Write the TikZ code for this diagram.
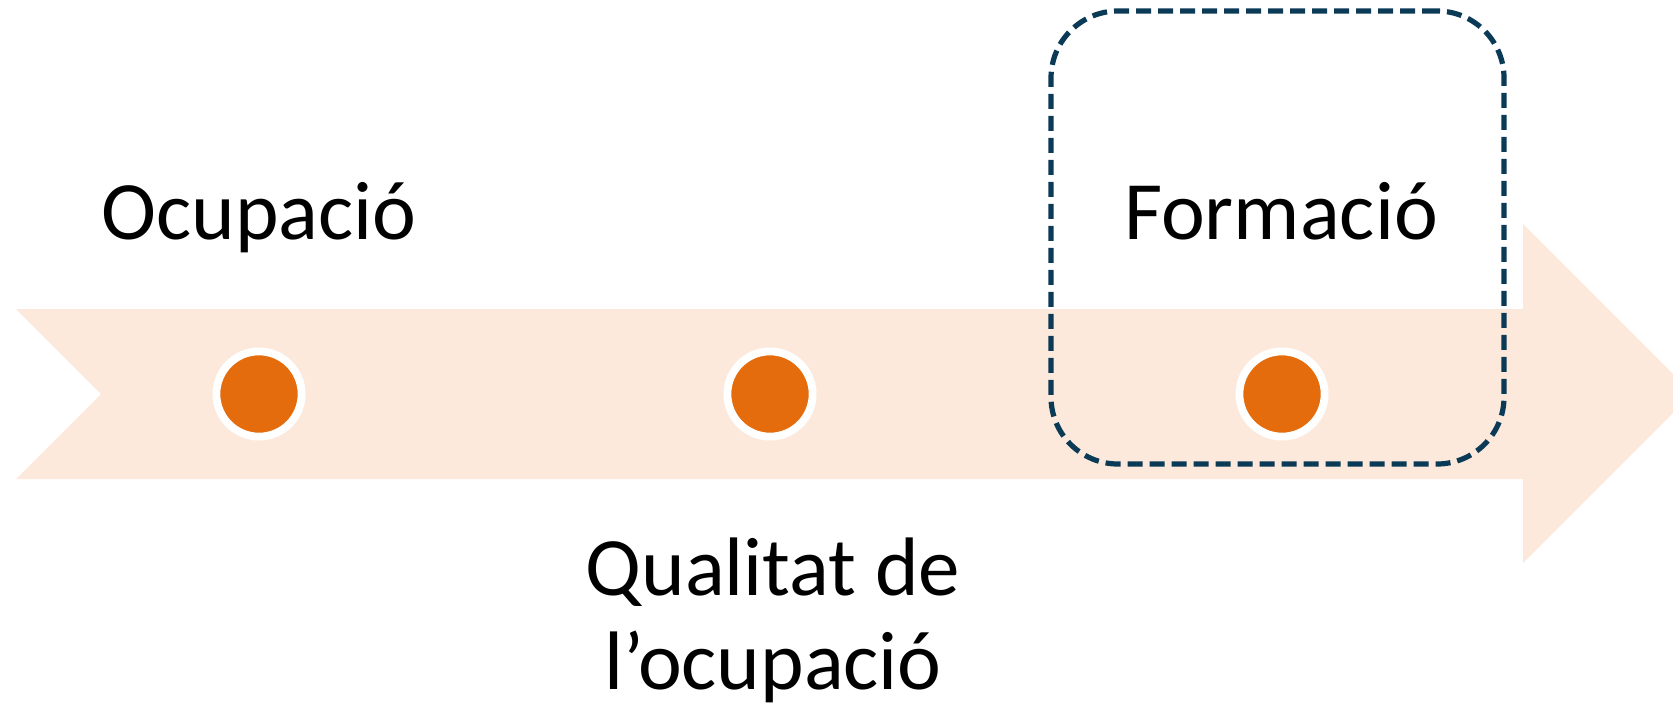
\documentclass[tikz,border=0pt]{standalone}
\usepackage{fontspec}
\setmainfont{Carlito}
\definecolor{arrowfill}{HTML}{FCE9DB}
\definecolor{dotorange}{HTML}{E46C0C}
\definecolor{boxblue}{HTML}{0B3A57}
\begin{document}
\begin{tikzpicture}[x=0.5pt,y=-0.5pt,
  dot/.style={circle, inner sep=0pt, minimum size=42.6pt, fill=dotorange, draw=white, line width=3.9pt},
  lbl/.style={inner sep=0pt, font=\fontsize{41.5}{47}\selectfont, text=black, align=center},
  focusbox/.style={draw=boxblue, line width=2.6pt, dash pattern=on 7.5pt off 3.5pt, rounded corners=33.5pt, minimum width=226.5pt, minimum height=226.5pt, inner sep=0pt}]
\useasboundingbox (0,0) rectangle (1673,708);
\clip (0,0) rectangle (1673,708);
\fill[arrowfill] (16,309) -- (1523,309) -- (1523,224) -- (1692.5,393.5) -- (1523,563) -- (1523,479) -- (16,479) -- (101,394) -- cycle;
\node[dot] (d1) at (259,394) {};
\node[dot] (d2) at (770,394) {};
\node[dot] (d3) at (1282,394) {};
\node[focusbox] (box) at (1277.5,237.5) {};
\node[lbl, anchor=base] (t1) at (259,239) {Ocupació};
\node[lbl, anchor=base] (t3) at (1281,239) {Formació};
\node[lbl, anchor=north] (t2) at (773,537) {Qualitat de\\l’ocupació};
\end{tikzpicture}
\end{document}
